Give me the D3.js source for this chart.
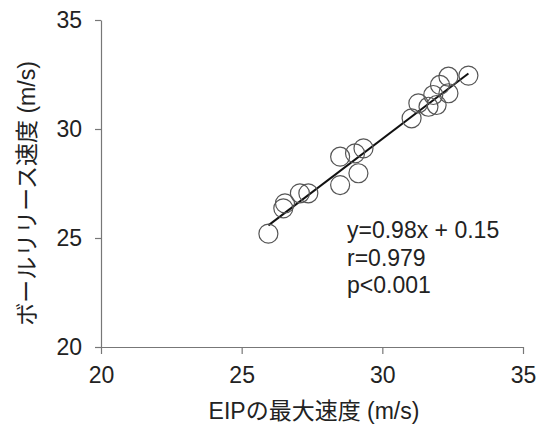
<!DOCTYPE html>
<html>
<head>
<meta charset="utf-8">
<script src="https://cdn.jsdelivr.net/npm/d3@7"></script>
<style>
  body { margin: 0; background: #fff; }
  text { font-family: "Liberation Sans", Arial, "Noto Sans CJK JP", sans-serif; fill: #222; }
</style>
</head>
<body>
<div id="chart"></div>
<script>
// EIP max speed (m/s) vs ball release speed (m/s)
const eipSpeed = [25.95, 26.48, 26.54, 27.07, 27.37, 28.5, 28.5, 29.03, 29.15, 29.33,
  31.04, 31.28, 31.64, 31.81, 31.93, 32.05, 32.35, 32.35, 33.06];
const releaseSpeed = [25.2, 26.36, 26.59, 27.05, 27.05, 28.73, 27.43, 28.88, 27.97, 29.11,
  30.49, 31.18, 31.02, 31.56, 31.1, 32.02, 32.4, 31.64, 32.45];
const xTicks = [20, 25, 30, 35];
const yTicks = [20, 25, 30, 35];
const slope = 0.98, intercept = 0.15;
const statLines = ['y=0.98x + 0.15', 'r=0.979', 'p<0.001'];

const width = 537, height = 426;
const margin = { top: 20, left: 101, right: 14, bottom: 79 };
const fs = 23;

const svg = d3.select('#chart').append('svg')
  .attr('width', width)
  .attr('height', height);

const x = d3.scaleLinear().domain([20, 35]).range([margin.left, width - margin.right]);
const y = d3.scaleLinear().domain([20, 35]).range([height - margin.bottom, margin.top]);

const axisColor = '#777';

const gx = svg.append('g')
  .attr('transform', `translate(0, ${height - margin.bottom})`)
  .call(d3.axisBottom(x).tickValues(xTicks).tickSize(7).tickPadding(13).tickSizeOuter(0));
gx.selectAll('text').attr('font-size', fs).attr('fill', '#222');

const gy = svg.append('g')
  .attr('transform', `translate(${margin.left}, 0)`)
  .call(d3.axisLeft(y).tickValues(yTicks).tickSize(6).tickPadding(13).tickSizeOuter(0));
gy.selectAll('text').attr('font-size', fs).attr('fill', '#222');

svg.selectAll('.domain, .tick line').attr('stroke', axisColor).attr('stroke-width', 1.2);

// regression line
const xMin = d3.min(eipSpeed), xMax = d3.max(eipSpeed);
svg.append('line')
  .attr('x1', x(xMin)).attr('y1', y(slope * xMin + intercept))
  .attr('x2', x(xMax)).attr('y2', y(slope * xMax + intercept))
  .attr('stroke', '#111').attr('stroke-width', 2);

// points
svg.selectAll('circle.pt')
  .data(eipSpeed.map((d, i) => [d, releaseSpeed[i]]))
  .enter().append('circle')
  .attr('class', 'pt')
  .attr('cx', d => x(d[0]))
  .attr('cy', d => y(d[1]))
  .attr('r', 9.5)
  .attr('fill', 'none')
  .attr('stroke', '#555')
  .attr('stroke-width', 1.2);

// stats annotation
svg.append('g').selectAll('text')
  .data(statLines)
  .enter().append('text')
  .attr('x', 347)
  .attr('y', (d, i) => 238 + i * 27.5)
  .attr('font-size', fs)
  .text(d => d);

// axis titles
svg.append('text')
  .attr('x', 314)
  .attr('y', 419)
  .attr('text-anchor', 'middle')
  .attr('font-size', fs)
  .text('EIPの最大速度 (m/s)');

svg.append('text')
  .attr('transform', `translate(27, ${(margin.top + height - margin.bottom) / 2 + 10}) rotate(-90)`)
  .attr('text-anchor', 'middle')
  .attr('dy', '0.35em')
  .attr('font-size', fs)
  .text('ボールリリース速度 (m/s)');
</script>
</body>
</html>
